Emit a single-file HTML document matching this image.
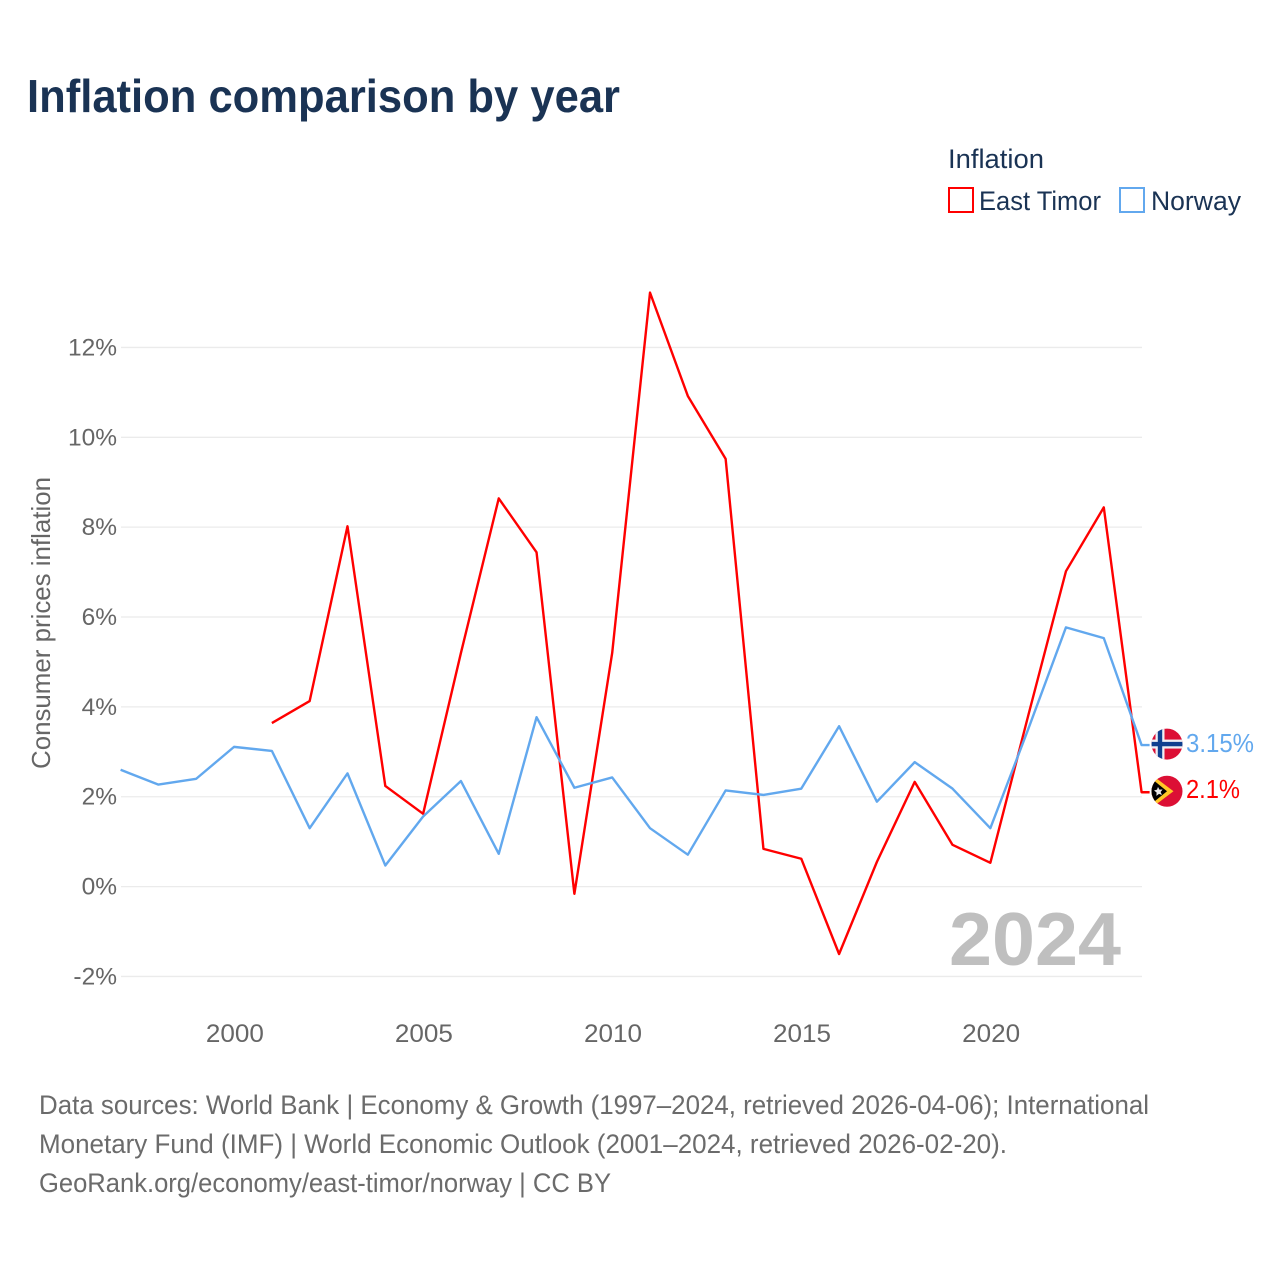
<!DOCTYPE html>
<html lang="en">
<head>
<meta charset="utf-8">
<title>Inflation comparison by year</title>
<style>
html,body{margin:0;padding:0;background:#fff;width:1280px;height:1280px;overflow:hidden}
svg{display:block}
text{font-family:"Liberation Sans",sans-serif}
</style>
</head>
<body>
<svg id="chart" width="1280" height="1280" viewBox="0 0 1280 1280" xmlns="http://www.w3.org/2000/svg">
<text x="27" y="112" font-size="46" font-weight="700" fill="#1a3354" textLength="593" lengthAdjust="spacingAndGlyphs">Inflation comparison by year</text>
<g>
<text x="948" y="168" font-size="27" fill="#1a3354" textLength="96" lengthAdjust="spacingAndGlyphs">Inflation</text>
<g>
<rect x="949" y="188" width="24" height="24" fill="#fff" stroke="#ff0000" stroke-width="2"/>
<text x="979" y="210" font-size="27" fill="#1a3354" textLength="122" lengthAdjust="spacingAndGlyphs">East Timor</text>
</g>
<g>
<rect x="1120" y="188" width="24" height="24" fill="#fff" stroke="#62a8ee" stroke-width="2"/>
<text x="1151" y="210" font-size="27" fill="#1a3354" textLength="90" lengthAdjust="spacingAndGlyphs">Norway</text>
</g>
</g>
<g id="grid"></g>
<g id="yticks"></g>
<g id="xticks"></g>
<text transform="translate(50,769) rotate(-90)" font-size="26" fill="#666" textLength="292" lengthAdjust="spacingAndGlyphs">Consumer prices inflation</text>
<text x="949" y="965" font-size="75" font-weight="700" fill="#bfbfbf" textLength="172" lengthAdjust="spacingAndGlyphs">2024</text>
<g id="series"></g>
<g id="ends"></g>
<g font-size="27" fill="#6b6b6b">
<text x="39" y="1114" textLength="1110" lengthAdjust="spacingAndGlyphs">Data sources: World Bank | Economy &amp; Growth (1997–2024, retrieved 2026-04-06); International</text>
<text x="39" y="1153" textLength="968" lengthAdjust="spacingAndGlyphs">Monetary Fund (IMF) | World Economic Outlook (2001–2024, retrieved 2026-02-20).</text>
<text x="39" y="1192" textLength="572" lengthAdjust="spacingAndGlyphs">GeoRank.org/economy/east-timor/norway | CC BY</text>
</g>
</svg>
<script>
const years = [1997,1998,1999,2000,2001,2002,2003,2004,2005,2006,2007,2008,2009,2010,2011,2012,2013,2014,2015,2016,2017,2018,2019,2020,2021,2022,2023,2024];
const eastTimor = [null,null,null,null,3.64,4.13,8.02,2.24,1.62,5.2,8.64,7.44,-0.16,5.2,13.22,10.92,9.52,0.84,0.62,-1.5,0.55,2.33,0.93,0.53,3.8,7.02,8.44,2.1];
const norway = [2.6,2.27,2.4,3.11,3.02,1.3,2.52,0.47,1.56,2.35,0.73,3.77,2.2,2.43,1.3,0.71,2.14,2.04,2.18,3.57,1.89,2.77,2.18,1.3,3.5,5.77,5.53,3.15];
const yTickValues = [-2,0,2,4,6,8,10,12];
const xTickValues = [2000,2005,2010,2015,2020];
const endLabelEastTimor = "2.1%";
const endLabelNorway = "3.15%";

const NS = "http://www.w3.org/2000/svg";
const xScale = function (year) { return 120.6 + (year - 1997) * (1141.6 - 120.6) / 27; };
const yScale = function (value) { return 886.6 - value * 44.93; };
function mk(parent, tag, attrs, text) {
  const el = document.createElementNS(NS, tag);
  Object.keys(attrs).forEach(function (k) { el.setAttribute(k, attrs[k]); });
  if (text !== undefined) el.textContent = text;
  parent.appendChild(el);
  return el;
}
const grid = document.getElementById("grid");
const yticks = document.getElementById("yticks");
const xticks = document.getElementById("xticks");
const seriesG = document.getElementById("series");
const ends = document.getElementById("ends");

yTickValues.forEach(function (v) {
  const line = mk(grid, "line", {x1: 121, x2: 1142, y1: yScale(v), y2: yScale(v), stroke: "#ebebeb", "stroke-width": 1.3});
  
  
  const label = mk(yticks, "text", {x: 117, y: yScale(v) + 8, "text-anchor": "end", "font-size": 24.5, fill: "#666"}, v + "%");
  
  
});
xTickValues.forEach(function (v) {
  const label = mk(xticks, "text", {x: xScale(v) + 0.8, y: 1042, "text-anchor": "middle", "font-size": 25, fill: "#666", textLength: 58, lengthAdjust: "spacingAndGlyphs"}, String(v));
  
  
});
function linePoints(values) {
  const pts = [];
  values.forEach(function (v, i) {
    if (v !== null) pts.push(xScale(years[i]).toFixed(2) + "," + yScale(v).toFixed(2));
  });
  const last = values[values.length - 1];
  pts.push((xScale(years[years.length - 1]) + 8) + "," + yScale(last).toFixed(2));
  return pts.join(" ");
}
const etLine = mk(seriesG, "polyline", {points: linePoints(eastTimor), fill: "none", stroke: "#ff0000", "stroke-width": 2.4, "stroke-linejoin": "round"});


const noLine = mk(seriesG, "polyline", {points: linePoints(norway), fill: "none", stroke: "#62a8ee", "stroke-width": 2.4, "stroke-linejoin": "round"});



/* Norway end flag and label */
const noY = yScale(norway[norway.length - 1]) - 1;
const noFlag = mk(ends, "g", {transform: "translate(1167," + noY + ")"});


mk(noFlag, "clipPath", {id: "noClip"});
mk(document.getElementById("noClip"), "circle", {r: 15.5});
const noInner = mk(noFlag, "g", {"clip-path": "url(#noClip)"});
mk(noInner, "rect", {x: -16, y: -16, width: 32, height: 32, fill: "#dc0f35"});
mk(noInner, "rect", {x: -16, y: -4.5, width: 32, height: 9, fill: "#eef0f5"});
mk(noInner, "rect", {x: -11.5, y: -16, width: 9, height: 32, fill: "#eef0f5"});
mk(noInner, "rect", {x: -16, y: -2.2, width: 32, height: 4.4, fill: "#0f3f8f"});
mk(noInner, "rect", {x: -9.2, y: -16, width: 4.4, height: 32, fill: "#0f3f8f"});
const noText = mk(ends, "text", {x: 1186, y: noY + 8, "font-size": 25.5, fill: "#62a8ee", textLength: 68, lengthAdjust: "spacingAndGlyphs"}, endLabelNorway);



/* East Timor end flag and label */
const etY = yScale(eastTimor[eastTimor.length - 1]) - 1;
const etFlag = mk(ends, "g", {transform: "translate(1167," + etY + ")"});


mk(etFlag, "clipPath", {id: "etClip"});
mk(document.getElementById("etClip"), "circle", {r: 15.5});
const etInner = mk(etFlag, "g", {"clip-path": "url(#etClip)"});
mk(etInner, "rect", {x: -16, y: -16, width: 32, height: 32, fill: "#dc0f35"});
mk(etInner, "polygon", {points: "-16,-17 6.5,0 -16,17", fill: "#ffc726"});
mk(etInner, "polygon", {points: "-16,-13 0,0 -16,13", fill: "#000"});
mk(etInner, "polygon", {points: "-9,-4.4 -7.6,-1.6 -4.4,-1.8 -6.4,0.8 -5,3.8 -8,2.6 -10.6,4.6 -10.4,1.2 -13,-0.8 -10,-1.6", fill: "#e8e8e8"});
const etText = mk(ends, "text", {x: 1186, y: etY + 7, "font-size": 25.5, fill: "#ff0000", textLength: 54, lengthAdjust: "spacingAndGlyphs"}, endLabelEastTimor);


</script>
</body>
</html>
